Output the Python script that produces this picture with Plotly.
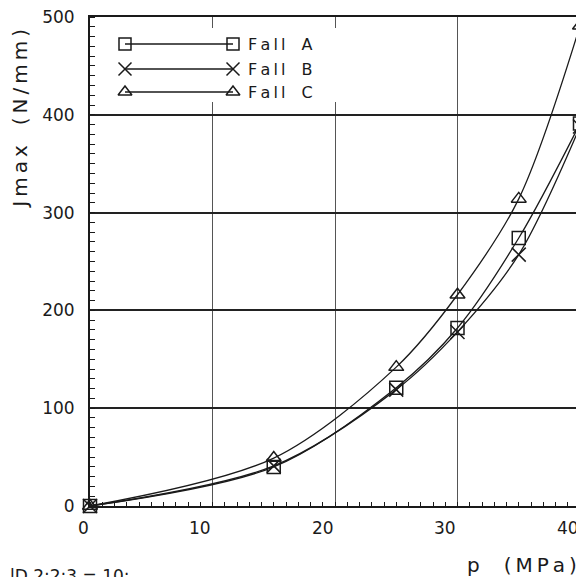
import plotly.graph_objects as go

# ---- data ----
p_mpa = [1, 16, 26, 31, 36, 41]
fall_a = [0, 40, 121, 182, 274, 391]
fall_b = [0, 41, 119, 178, 257, 388]
fall_c = [0, 49, 142, 216, 314, 491]
series_names = ["F\u2009a\u2009l\u2009l\u2002\u2002A", "F\u2009a\u2009l\u2009l\u2002\u2002B", "F\u2009a\u2009l\u2009l\u2002\u2002C"]
x_tick_values = [0, 10, 20, 30, 40]
x_tick_labels = ["0", "10", "20", "30", "40"]
x_grid_values = [11, 21, 31]
y_tick_values = [0, 100, 200, 300, 400, 500]

X_RANGE = [1, 41]
Y_RANGE = [0, 500]
INK = "#1a1a1a"
FONT = "DejaVu Sans"

# page has an 8px body margin; figure sized so the plot lands where the reference has it
W, H = 576, 569
ML, MR, MT, MB = 82, 4, 9, 71
PW, PH = W - ML - MR, H - MT - MB

fig = go.Figure()

symbols = ["square-open", "x-thin-open", "triangle-up-open"]
for name, ys, sym in zip(series_names, [fall_a, fall_b, fall_c], symbols):
    fig.add_trace(go.Scatter(
        x=p_mpa, y=ys, mode="lines+markers", name=name,
        line=dict(color=INK, width=1.3, shape="spline", smoothing=0.9),
        marker=dict(symbol=sym, size=13 if sym != "x-thin-open" else 14,
                    color=INK, line=dict(color=INK, width=1.5)),
        showlegend=False, cliponaxis=False,
    ))

# ---- hand-drawn legend (line with a marker at each end), on pixel overlay axes ----
fig.add_trace(go.Scatter(
    x=[18, 250, 250, 18, 18], y=[404, 404, 478, 478, 404], xaxis="x2", yaxis="y2",
    mode="lines", fill="toself", fillcolor="white", line=dict(width=0, color="white"),
    showlegend=False, hoverinfo="skip",
))
leg_rows = [462, 437, 414]
leg_x0, leg_x1, leg_tx = 35, 143, 156
for name, sym, ry in zip(series_names, symbols, leg_rows):
    fig.add_trace(go.Scatter(
        x=[leg_x0, leg_x1], y=[ry, ry], mode="lines+markers", xaxis="x2", yaxis="y2",
        line=dict(color=INK, width=1.3),
        marker=dict(symbol=sym, size=12 if sym != "x-thin-open" else 13,
                    color=INK, line=dict(color=INK, width=1.5)),
        showlegend=False, hoverinfo="skip",
    ))
    fig.add_annotation(x=leg_tx, y=ry, xref="x2", yref="y2", text=name,
                       showarrow=False, xanchor="left", yanchor="middle",
                       font=dict(family=FONT, size=16, color=INK))

def xpaper(v):
    return (v - X_RANGE[0]) / (X_RANGE[1] - X_RANGE[0])

for v, lab in zip(x_tick_values, x_tick_labels):
    xp = xpaper(v)
    if v == 0:
        xp = xpaper(0.45)
    fig.add_annotation(x=xp, y=-0.02, xref="paper", yref="paper", text=lab,
                       showarrow=False, xanchor="center", yanchor="top",
                       font=dict(family=FONT, size=17, color=INK))

fig.add_annotation(x=0.998, y=-0.093, xref="paper", yref="paper",
                   text="p\u2002\u2002\u2009(\u2009M\u2009P\u2009a\u2009)",
                   showarrow=False, xanchor="right", yanchor="top",
                   font=dict(family=FONT, size=20, color=INK))
fig.add_annotation(x=-0.143, y=0.792, xref="paper", yref="paper",
                   text="J\u2009m\u2009a\u2009x\u2002\u2002(\u2009N\u2009/\u2009m\u2009m\u2009)",
                   textangle=-90,
                   showarrow=False, xanchor="center", yanchor="middle",
                   font=dict(family=FONT, size=20, color=INK))
fig.add_annotation(x=-ML / PW, y=-0.118, xref="paper", yref="paper",
                   text="lD 2:2:3 = 10;", showarrow=False,
                   xanchor="left", yanchor="top",
                   font=dict(family=FONT, size=17, color=INK))

fig.update_layout(
    width=W, height=H, autosize=False,
    margin=dict(l=ML, r=MR, t=MT, b=MB, autoexpand=False),
    paper_bgcolor="white", plot_bgcolor="white",
    xaxis=dict(
        range=X_RANGE, tickmode="array", tickvals=x_grid_values,
        showticklabels=False, ticks="",
        showgrid=True, gridcolor="#555555", gridwidth=1,
        zeroline=False, showline=True, linecolor=INK, linewidth=2, mirror=True,
        minor=dict(tickmode="linear", tick0=1, dtick=1, ticks="inside",
                   ticklen=4, tickcolor=INK, tickwidth=1, showgrid=False),
    ),
    yaxis=dict(
        range=Y_RANGE, tickmode="array", tickvals=y_tick_values,
        ticks="", ticklabelstandoff=10, ticklabeloverflow="allow",
        tickfont=dict(family=FONT, size=17, color=INK),
        showgrid=True, gridcolor="#222222", gridwidth=2,
        zeroline=False, showline=True, linecolor=INK, linewidth=2, mirror=True,
        minor=dict(tickmode="linear", tick0=0, dtick=10, ticks="inside",
                   ticklen=5, tickcolor=INK, tickwidth=1, showgrid=False),
    ),
    xaxis2=dict(range=[0, PW], overlaying="x", visible=False, fixedrange=True),
    yaxis2=dict(range=[0, PH], overlaying="y", visible=False, fixedrange=True),
)

fig.write_html("out.html")
